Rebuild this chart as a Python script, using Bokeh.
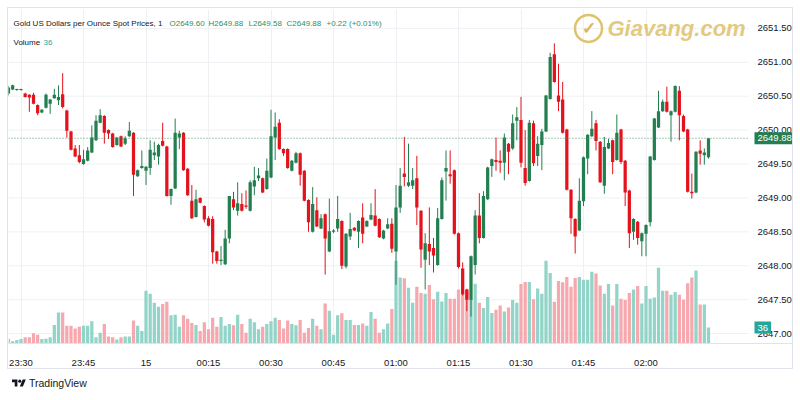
import numpy as np
from bokeh.plotting import figure
from bokeh.models import (Range1d, FixedTicker, Label, Div, ColumnDataSource)
from bokeh.layouts import column
from bokeh.embed import file_html
from bokeh.resources import INLINE
from bokeh.core.properties import value

# ---------------- data (1-minute candles, 23:27 .. 02:15) ----------------
opens = [2650.54, 2650.60, 2650.59, 2650.59, 2650.54, 2650.52, 2650.52, 2650.37, 2650.26, 2650.33,
         2650.39, 2650.47, 2650.44, 2650.53, 2650.29, 2649.98, 2649.73, 2649.63, 2649.50, 2649.55,
         2649.67, 2649.85, 2650.11, 2650.21, 2650.00, 2649.95, 2649.78, 2649.91, 2649.80, 2649.91,
         2649.96, 2649.32, 2649.44, 2649.40, 2649.44, 2649.63, 2649.61, 2649.84, 2649.76, 2649.03,
         2649.14, 2649.89, 2649.96, 2649.43, 2648.96, 2648.72, 2649.00, 2648.88, 2648.70, 2648.69,
         2648.21, 2648.07, 2648.02, 2648.40, 2648.98, 2648.81, 2648.91, 2648.89, 2648.81, 2649.17,
         2649.29, 2649.29, 2649.13, 2649.30, 2649.89, 2650.11, 2649.72, 2649.72, 2649.40, 2649.52,
         2649.66, 2649.40, 2648.97, 2648.50, 2648.82, 2648.55, 2648.76, 2648.21, 2648.50, 2648.55,
         2648.66, 2647.99, 2648.43, 2648.56, 2648.50, 2648.71, 2648.58, 2648.68, 2648.74, 2648.69,
         2648.40, 2648.55, 2648.62, 2648.21, 2648.86, 2649.36, 2649.18, 2649.18, 2649.29, 2648.81,
         2648.09, 2648.32, 2648.26, 2648.01, 2648.69, 2649.39, 2649.35, 2649.41, 2648.48, 2647.96,
         2647.65, 2647.50, 2648.01, 2648.74, 2648.41, 2648.98, 2649.47, 2649.56, 2649.55, 2649.52,
         2649.80, 2649.73, 2650.14, 2650.15, 2649.44, 2649.25, 2650.10, 2649.62, 2649.78, 2649.98,
         2650.46, 2651.12, 2650.51, 2650.45, 2650.01, 2649.12, 2648.69, 2648.52, 2648.95, 2649.58,
         2649.91, 2650.10, 2649.83, 2649.18, 2649.73, 2649.85, 2649.56, 2650.01, 2649.55, 2649.11,
         2648.50, 2648.65, 2648.36, 2648.47, 2648.64, 2649.56, 2650.04, 2650.28, 2650.42, 2650.22,
         2650.27, 2650.58, 2650.21, 2650.01, 2649.09, 2649.08, 2649.70, 2649.63, 2649.60]
highs = [2650.65, 2650.67, 2650.61, 2650.61, 2650.55, 2650.53, 2650.55, 2650.38, 2650.31, 2650.54,
         2650.46, 2650.61, 2650.66, 2650.84, 2650.30, 2649.99, 2649.78, 2649.78, 2649.71, 2649.75,
         2650.07, 2650.22, 2650.31, 2650.22, 2650.01, 2649.96, 2649.90, 2649.92, 2649.91, 2650.12,
         2649.97, 2649.42, 2649.70, 2649.47, 2649.85, 2649.83, 2649.80, 2650.11, 2649.77, 2649.14,
         2650.17, 2649.99, 2649.97, 2649.44, 2649.19, 2649.12, 2649.01, 2648.89, 2648.73, 2648.73,
         2648.22, 2648.29, 2648.53, 2649.03, 2649.09, 2649.23, 2649.07, 2649.11, 2649.26, 2649.46,
         2649.44, 2649.30, 2649.58, 2650.30, 2650.26, 2650.16, 2649.73, 2649.73, 2649.56, 2649.68,
         2649.67, 2649.41, 2648.98, 2649.16, 2649.01, 2648.76, 2648.77, 2648.99, 2648.54, 2649.03,
         2648.67, 2648.48, 2648.78, 2648.57, 2648.67, 2648.92, 2648.67, 2648.92, 2649.13, 2648.70,
         2648.53, 2648.70, 2648.70, 2649.19, 2649.44, 2649.90, 2649.80, 2649.44, 2649.62, 2648.82,
         2648.48, 2648.86, 2648.41, 2648.85, 2649.30, 2649.70, 2649.70, 2649.42, 2648.49, 2648.05,
         2647.66, 2648.15, 2648.82, 2649.07, 2649.10, 2649.46, 2649.58, 2649.89, 2649.70, 2649.95,
         2649.81, 2650.23, 2650.34, 2650.49, 2650.00, 2650.15, 2650.14, 2649.91, 2650.02, 2650.52,
         2651.14, 2651.28, 2650.98, 2650.71, 2650.02, 2649.13, 2648.70, 2649.29, 2649.61, 2649.94,
         2650.28, 2650.15, 2649.84, 2649.90, 2649.87, 2649.86, 2650.23, 2650.02, 2649.56, 2649.12,
         2648.70, 2648.66, 2648.49, 2648.61, 2649.62, 2650.18, 2650.58, 2650.45, 2650.64, 2650.29,
         2650.66, 2650.65, 2650.23, 2650.02, 2649.36, 2649.69, 2649.85, 2649.73, 2649.88]
lows = [2650.51, 2650.59, 2650.58, 2650.58, 2650.48, 2650.27, 2650.38, 2650.22, 2650.25, 2650.32,
        2650.24, 2650.46, 2650.37, 2650.32, 2649.89, 2649.70, 2649.60, 2649.51, 2649.49, 2649.54,
        2649.66, 2649.84, 2650.10, 2649.80, 2649.87, 2649.74, 2649.77, 2649.75, 2649.78, 2649.90,
        2649.03, 2649.31, 2649.43, 2649.19, 2649.34, 2649.56, 2649.49, 2649.76, 2649.02, 2648.90,
        2649.13, 2649.72, 2649.40, 2649.03, 2648.69, 2648.71, 2648.92, 2648.64, 2648.58, 2648.03,
        2648.03, 2648.01, 2648.01, 2648.33, 2648.82, 2648.74, 2648.80, 2648.84, 2648.80, 2649.04,
        2649.25, 2649.07, 2649.12, 2649.29, 2649.56, 2649.71, 2649.62, 2649.43, 2649.39, 2649.51,
        2649.18, 2648.95, 2648.50, 2648.49, 2648.57, 2648.54, 2647.87, 2648.20, 2648.48, 2648.50,
        2647.95, 2647.96, 2648.38, 2648.51, 2648.26, 2648.33, 2648.57, 2648.67, 2648.58, 2648.41,
        2648.39, 2648.54, 2648.19, 2647.72, 2648.78, 2649.17, 2649.16, 2649.13, 2648.60, 2647.97,
        2647.65, 2648.01, 2647.90, 2648.00, 2648.68, 2648.96, 2649.21, 2648.46, 2647.96, 2647.56,
        2647.33, 2647.25, 2647.87, 2648.33, 2648.40, 2648.97, 2649.31, 2649.40, 2649.37, 2649.26,
        2649.35, 2649.71, 2649.85, 2649.45, 2649.18, 2649.24, 2649.47, 2649.47, 2649.41, 2649.97,
        2650.45, 2650.70, 2650.28, 2649.95, 2649.11, 2648.47, 2648.18, 2648.51, 2648.88, 2649.35,
        2649.90, 2649.70, 2649.22, 2649.06, 2649.72, 2649.35, 2649.55, 2649.50, 2648.88, 2648.26,
        2648.38, 2648.31, 2648.14, 2648.14, 2648.58, 2649.55, 2650.03, 2650.27, 2650.26, 2649.83,
        2650.26, 2649.85, 2649.97, 2649.08, 2648.99, 2649.07, 2649.49, 2649.49, 2649.58]
closes = [2650.63, 2650.66, 2650.60, 2650.60, 2650.49, 2650.48, 2650.39, 2650.25, 2650.30, 2650.52,
          2650.45, 2650.52, 2650.49, 2650.34, 2649.99, 2649.71, 2649.61, 2649.53, 2649.57, 2649.70,
          2649.89, 2650.14, 2650.22, 2649.96, 2649.95, 2649.75, 2649.89, 2649.76, 2649.88, 2649.99,
          2649.34, 2649.41, 2649.47, 2649.46, 2649.71, 2649.67, 2649.78, 2649.77, 2649.03, 2649.13,
          2649.96, 2649.95, 2649.41, 2649.04, 2648.70, 2648.98, 2648.93, 2648.68, 2648.59, 2648.20,
          2648.07, 2648.09, 2648.40, 2649.03, 2648.86, 2648.92, 2648.81, 2648.87, 2649.23, 2649.26,
          2649.33, 2649.08, 2649.40, 2649.91, 2650.05, 2649.72, 2649.66, 2649.44, 2649.55, 2649.66,
          2649.34, 2648.96, 2648.64, 2648.91, 2648.58, 2648.70, 2648.40, 2648.51, 2648.52, 2648.69,
          2648.00, 2648.47, 2648.54, 2648.52, 2648.66, 2648.47, 2648.66, 2648.75, 2648.59, 2648.42,
          2648.52, 2648.61, 2648.25, 2648.86, 2649.18, 2649.31, 2649.23, 2649.26, 2648.86, 2648.24,
          2648.33, 2648.21, 2648.15, 2648.70, 2649.26, 2649.44, 2649.32, 2648.47, 2647.98, 2647.58,
          2647.50, 2648.14, 2648.74, 2648.41, 2649.03, 2649.45, 2649.57, 2649.53, 2649.52, 2649.89,
          2649.68, 2650.10, 2650.19, 2649.52, 2649.22, 2650.11, 2649.51, 2649.80, 2649.98, 2650.51,
          2651.08, 2650.71, 2650.42, 2649.96, 2649.12, 2648.70, 2648.43, 2648.96, 2649.60, 2649.93,
          2650.02, 2649.84, 2649.23, 2649.75, 2649.81, 2649.53, 2649.96, 2649.53, 2649.08, 2648.48,
          2648.69, 2648.41, 2648.48, 2648.60, 2649.61, 2650.17, 2650.28, 2650.42, 2650.27, 2650.28,
          2650.65, 2650.22, 2649.98, 2649.09, 2649.07, 2649.68, 2649.65, 2649.67, 2649.88]
volumes = [11, 5, 8, 10, 14, 14, 23, 20, 10, 11,
           14, 42, 70, 70, 40, 40, 34, 38, 40, 40,
           50, 14, 24, 44, 16, 14, 9, 14, 16, 16,
           52, 40, 28, 119, 112, 92, 83, 89, 94, 64,
           65, 38, 64, 56, 46, 42, 28, 48, 32, 58,
           38, 60, 40, 44, 41, 65, 44, 24, 56, 48,
           32, 38, 44, 50, 58, 53, 34, 52, 44, 41,
           53, 24, 35, 56, 40, 32, 90, 74, 20, 64,
           68, 53, 53, 42, 42, 45, 40, 71, 56, 24,
           32, 45, 78, 187, 149, 147, 126, 92, 128, 114,
           112, 132, 100, 117, 95, 114, 101, 101, 122, 114,
           122, 100, 135, 92, 80, 105, 69, 76, 86, 72,
           81, 98, 92, 134, 139, 139, 100, 124, 112, 187,
           159, 94, 141, 138, 150, 128, 148, 150, 144, 144,
           162, 158, 131, 112, 134, 86, 134, 101, 98, 114,
           122, 130, 90, 130, 101, 104, 171, 119, 119, 110,
           116, 110, 99, 136, 149, 165, 88, 88, 36]

first_minute = -3                      # first candle is 23:27 (minutes after 23:30)
tick_minutes = [0, 15, 30, 45, 60, 75, 90, 105, 120, 135, 150]
tick_labels = ["23:30", "23:45", "15", "00:15", "00:30", "00:45", "01:00",
               "01:15", "01:30", "01:45", "02:00"]
price_ticks = [2647.0, 2647.5, 2648.0, 2648.5, 2649.0, 2649.5, 2650.0, 2650.5, 2651.0, 2651.5]
last_price = 2649.88
last_volume = 36
change_text = "+0.22 (+0.01%)"

# ---------------- styling ----------------
UP = "#237f50"
DOWN = "#e4121c"
VUP = "#93d4c8"
VDOWN = "#f6a8ae"
GRID = "#eef0f3"
TXT = "#131722"
FONT = "Liberation Sans"

n = len(opens)
t = np.arange(n) + first_minute
o = np.array(opens); c = np.array(closes)
up = c >= o
colors = [UP if u else DOWN for u in up]
vcolors = [VUP if u else VDOWN for u in up]
top = np.maximum(o, c)
bot = np.minimum(o, c)
top = np.where(top - bot < 0.015, bot + 0.015, top)

src = ColumnDataSource(dict(t=t, high=highs, low=lows, top=top, bot=bot,
                            vol=volumes, color=colors, vcolor=vcolors))

# ---------------- figure geometry ----------------
W, H = 786, 362
FL, FR, FT, FB = 0, 1, 1, 26
FW, FH = W - FL - FR, H - FT - FB      # frame: page x 8..793, y 9..344
PAGE_X0, PAGE_Y0 = 8, 9
MIN_PX = 4.1667                        # pixels per minute
X_2330 = 20.5                          # page x of 23:30
PLOT_RIGHT = 748                       # page x where price scale begins

x_start = (PAGE_X0 - X_2330) / MIN_PX
x_end = x_start + FW / MIN_PX
x_plot_end = (PLOT_RIGHT - X_2330) / MIN_PX
xr = Range1d(x_start, x_end)
yr = Range1d(2646.853, 2651.779)

def tx(px):
    return x_start + (px - PAGE_X0) / MIN_PX

def ty(py):
    return yr.end - (py - PAGE_Y0) / FH * (yr.end - yr.start)

p = figure(width=W, height=H, x_range=xr, y_range=yr, output_backend="svg",
           toolbar_location=None, y_axis_location=None,
           min_border_left=FL, min_border_right=FR, min_border_top=FT, min_border_bottom=FB)
p.extra_y_ranges = {"vol": Range1d(0, FH * 2.25)}
p.outline_line_color = None
p.background_fill_color = "white"
p.border_fill_color = "white"
p.styles = {"border": "1px solid #e0e3eb"}

# horizontal grid (stops at the price scale)
p.segment(x0=[x_start] * len(price_ticks), y0=price_ticks,
          x1=[x_plot_end] * len(price_ticks), y1=price_ticks,
          line_color=GRID, line_width=1, level="underlay")
p.ygrid.visible = False
p.xgrid.ticker = FixedTicker(ticks=tick_minutes)
p.xgrid.grid_line_color = GRID

# volume
p.vbar(x="t", width=0.78, top="vol", bottom=0, source=src, y_range_name="vol",
       fill_color="vcolor", line_color=None)
# candles
p.segment(x0="t", y0="low", x1="t", y1="high", source=src, line_color="color", line_width=1)
p.vbar(x="t", width=0.78, top="top", bottom="bot", source=src,
       fill_color="color", line_color=None)

# last price dotted line
p.line(x=[x_start, x_plot_end], y=[last_price, last_price], line_color="#3f8f64",
       line_dash="1 2", line_width=1, line_alpha=0.9)

# time axis
p.xaxis.ticker = FixedTicker(ticks=tick_minutes)
p.xaxis.major_label_overrides = {m: s for m, s in zip(tick_minutes, tick_labels)}
p.xaxis.axis_line_color = "#e0e3eb"
p.xaxis.major_tick_line_color = None
p.xaxis.minor_tick_line_color = None
p.xaxis.major_label_text_font = FONT
p.xaxis.major_label_text_font_size = "9.5px"
p.xaxis.major_label_text_color = TXT
p.xaxis.major_label_standoff = 7

# price scale labels
p.text(x=[tx(757)] * len(price_ticks), y=price_ticks, text=["%.2f" % v for v in price_ticks],
       text_baseline="middle", text_align="left", text_font=value(FONT),
       text_font_size="9.5px", text_color=TXT)

# watermark
p.scatter(x=[tx(588)], y=[ty(28)], size=27, marker="circle", fill_color=None,
          line_color="#dcbb60", line_width=2.5, line_alpha=0.9)
p.add_layout(Label(x=tx(588), y=ty(28.5), text="✓", text_align="center", text_baseline="middle",
                   text_font_size="17px", text_font_style="bold", text_color="#d9b658"))
p.add_layout(Label(x=tx(607), y=ty(28), text="Giavang.com", text_baseline="middle",
                   text_font=FONT, text_font_style="bold italic",
                   text_font_size="22px", text_color="#e0c36e", text_alpha=0.9))

# legend texts
GREEN_TXT = "#2a9160"
def lab(px, py, txt, color, size="8px"):
    p.add_layout(Label(x=tx(px), y=ty(py), text=txt, text_baseline="middle",
                       text_font=FONT, text_font_size=size, text_color=color))

lab(13, 23, "Gold US Dollars per Ounce Spot Prices, 1", TXT)
lab(169, 23, "O%.2f" % opens[-1], GREEN_TXT)
lab(208, 23, "H%.2f" % highs[-1], GREEN_TXT)
lab(248, 23, "L%.2f" % lows[-1], GREEN_TXT)
lab(286, 23, "C%.2f" % closes[-1], GREEN_TXT)
lab(326, 23, change_text, GREEN_TXT)
lab(13, 42, "Volume", TXT)
lab(43, 42, str(last_volume), "#26a69a")

# price & volume badges on the scale
p.add_layout(Label(x=tx(754), y=last_price, text="%.2f" % last_price, text_baseline="middle",
                   text_font=FONT, text_font_size="9.5px", text_color="white",
                   background_fill_color=UP, padding=3))
p.add_layout(Label(x=tx(754), y=last_volume, y_range_name="vol", text=str(last_volume),
                   text_baseline="middle", text_font=FONT, text_font_size="9.5px",
                   text_color="white", background_fill_color="#26a69a", padding=3))

logo = Div(text=(
    '<div style="display:flex;align-items:center;gap:3px;font-family:\'Liberation Sans\';'
    'font-size:10.5px;color:#131722;">'
    '<svg width="14" height="11" viewBox="0 0 36 28"><path fill="#131722" '
    'd="M14 22H7V11H0V4h14v18zM28 22h-8l7.5-18h8L28 22z"/>'
    '<circle fill="#131722" cx="20" cy="8" r="4"/></svg><span>TradingView</span></div>'),
    width=200, height=18, styles={"margin-top": "7px"})

layout = column(p, logo, spacing=0, styles={"margin-left": "7px", "margin-top": "7px"})
open("out.html", "w").write(file_html(layout, INLINE))
